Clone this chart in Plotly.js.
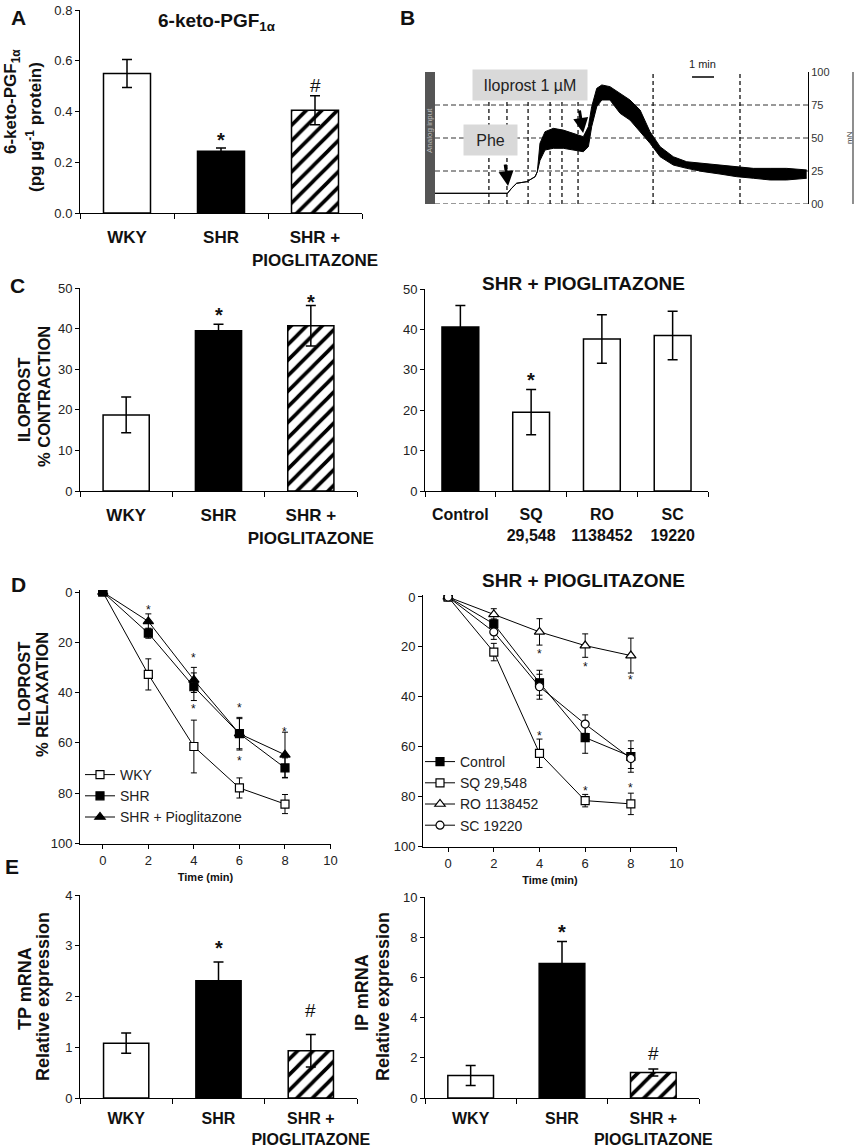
<!DOCTYPE html>
<html><head><meta charset="utf-8">
<script src="https://cdn.plot.ly/plotly-3.0.1.min.js"></script>
<style>html,body{margin:0;padding:0;background:#fff}#chart{width:858px;height:1147px}</style>
</head><body><div id="chart"></div>
<script>
// ---------- DATA ----------
// Panel A
const groups3 = ['WKY', 'SHR', 'SHR +<br>PIOGLITAZONE'];
const ketoMean = [0.55, 0.243, 0.405];
const ketoErr = [0.055, 0.013, 0.057];
// Panel B (isometric tension trace, min vs mN)
const traceTime  = [0, 3.29, 3.48, 3.71, 4.17, 4.55, 4.65, 4.77, 5.0, 5.38, 5.83, 6.29, 6.74, 6.97, 7.12, 7.35, 7.58, 7.95, 8.41, 8.86, 9.32, 9.77, 10.23, 10.83, 11.44, 12.2, 12.95, 13.71, 14.47, 15.23, 15.98, 16.89];
const traceUpper = [8.1, 8.1, 11.9, 15.7, 16.9, 20.7, 24.5, 46, 54.8, 57.3, 56, 53.5, 51, 58.6, 73.7, 87.6, 90.2, 88.9, 83.8, 78.8, 71.2, 54.8, 43.4, 35.8, 32, 30.8, 29.5, 28.3, 27, 27, 27, 25.8];
const traceLower = [8.1, 8.1, 11.9, 15.7, 16.9, 20.7, 24.5, 33, 40.9, 42.2, 42.2, 40.9, 39.6, 43.4, 58.6, 73.7, 78.8, 78.8, 68.7, 63.6, 54.8, 46, 35.8, 29.5, 27, 24.5, 22.7, 20.7, 19.5, 18.2, 18.2, 19.5];
const eventTimes = [2.45, 3.27, 4.23, 5.23, 5.77, 6.5, 9.91, 13.86];
const traceTickVals = [0, 25, 50, 75, 100];
const traceTickText = ['00', '25', '50', '75', '100'];
const phePoint = [3.32, 13.6];
const iloPoint = [6.73, 53.8];
// Panel C
const contractMean = [18.75, 39.5, 40.7];
const contractErr = [4.4, 1.6, 5.0];
const antagonists = ['Control', 'SQ<br>29,548', 'RO<br>1138452', 'SC<br>19220'];
const antagMean = [40.6, 19.5, 37.6, 38.5];
const antagErr = [5.3, 5.6, 6.0, 6.0];
// Panel D
const timeMin = [0, 2, 4, 6, 8];
const relaxWKY = [0, 32.8, 61.5, 78, 84.4];
const relaxWKYErr = [0, 6.2, 10.5, 4, 3.8];
const relaxSHR = [0, 16.4, 37.7, 56.4, 70];
const relaxSHRErr = [0, 2, 5.5, 6.5, 4];
const relaxSHRP = [0, 11.7, 35, 56.4, 64.8];
const relaxSHRPErr = [0, 3, 5, 6, 9];
const relaxCtrl = [0, 10.8, 34.4, 56.4, 64];
const relaxCtrlErr = [0, 2, 5, 6.3, 6.3];
const relaxSQ = [0, 22.1, 62.7, 81.7, 83];
const relaxSQErr = [0, 3.5, 5.7, 2.5, 4.3];
const relaxRO = [0, 7, 14, 19.5, 23.5];
const relaxROErr = [0, 2.3, 5.3, 4.7, 7];
const relaxSC = [0, 14, 36, 51, 64.8];
const relaxSCErr = [0, 3, 5, 3.7, 4];
const starsDLx = [2, 4, 4, 6, 6, 8];
const starsDLy = [5.8, 25, 45.5, 44.8, 66, 54.4];
const starsDRx = [4, 6, 8, 4, 6, 8];
const starsDRy = [21.6, 26.8, 32.1, 54.5, 76.5, 75.6];
// Panel E
const tpMean = [1.08, 2.31, 0.93];
const tpErr = [0.2, 0.37, 0.32];
const ipMean = [1.12, 6.69, 1.27];
const ipErr = [0.5, 1.1, 0.17];

// ---------- LAYOUT HELPERS ----------
const W = 858, H = 1147;
const FONT = "Arial, 'Liberation Sans', Helvetica, sans-serif";
const dx = (a, b) => [a / W, b / W];
const dy = (top, bottom) => [1 - bottom / H, 1 - top / H];
const PX = x => x / W, PY = y => 1 - y / H;

const barColors3 = ['white', 'black', 'black'];
const barShapes3 = ['', '', '/'];

function barTrace(cats, vals, errs, colors, shapes, xa, ya, width) {
  return {
    type: 'bar', x: cats, y: vals, xaxis: xa, yaxis: ya, width: width, showlegend: false,
    marker: { color: colors, line: { color: 'black', width: 1.5 },
      pattern: { shape: shapes, fgcolor: 'black', bgcolor: 'white', size: 11, solidity: 0.33 } },
    error_y: { type: 'data', array: errs, visible: true, color: 'black', thickness: 1.5, width: 5 }
  };
}
function barY(dom, anchor, range, dtick, fmt) {
  return { domain: dom, anchor: anchor, range: range, dtick: dtick, tick0: 0, tickformat: fmt,
    showline: true, linecolor: 'black', linewidth: 1, ticks: 'outside', ticklen: 4, tickcolor: 'black',
    showgrid: false, zeroline: false, tickfont: { size: 13, color: '#222' } };
}
function barX(dom, anchor, n, fs, standoff) {
  return { domain: dom, anchor: anchor, type: 'category', range: [-0.5, n - 0.5], tickangle: 0,
    showline: true, linecolor: 'black', linewidth: 1, ticks: 'outside', tickson: 'boundaries',
    ticklen: 5, tickcolor: 'black', showgrid: false, zeroline: false, ticklabelstandoff: standoff,
    tickfont: { size: fs, color: '#111', weight: 'bold' } };
}
function lineTrace(y, err, name, symbol, fill, xa, ya, legend, size) {
  return { type: 'scatter', mode: 'lines+markers', x: timeMin, y: y, name: name, xaxis: xa, yaxis: ya,
    legend: legend, line: { color: 'black', width: 1 },
    marker: { symbol: symbol, size: size || 8, color: fill, line: { color: 'black', width: 1.2 } },
    error_y: { type: 'data', array: err, visible: true, color: 'black', thickness: 1, width: 3 } };
}
function dX(dom, anchor, range) {
  return { domain: dom, anchor: anchor, range: range, tick0: 0, dtick: 2, showline: true, linecolor: 'black',
    linewidth: 1, ticks: 'outside', ticklen: 4, tickcolor: 'black', showgrid: false, zeroline: false,
    tickfont: { size: 13, color: '#222' },
    title: { text: 'Time (min)', font: { size: 11, weight: 'bold', color: '#111' }, standoff: 6 } };
}
function dY(dom, anchor) {
  return { domain: dom, anchor: anchor, range: [100.3, -0.8], tick0: 0, dtick: 20, showline: true,
    linecolor: 'black', linewidth: 1, ticks: 'outside', ticklen: 4, tickcolor: 'black', showgrid: false,
    zeroline: false, tickfont: { size: 13, color: '#222' } };
}

// ---------- TRACES ----------
const data = [];
// A
data.push(barTrace(groups3, ketoMean, ketoErr, barColors3, barShapes3, 'x', 'y', 0.5));
// B
data.push({ type: 'scatter', mode: 'lines', x: traceTime, y: traceLower, xaxis: 'x2', yaxis: 'y2',
  line: { color: 'black', width: 1 }, showlegend: false });
data.push({ type: 'scatter', mode: 'lines', x: traceTime, y: traceUpper, xaxis: 'x2', yaxis: 'y2',
  line: { color: 'black', width: 1 }, fill: 'tonexty', fillcolor: 'black', showlegend: false });
// C
data.push(barTrace(groups3, contractMean, contractErr, barColors3, barShapes3, 'x3', 'y3', 0.5));
data.push(barTrace(antagonists, antagMean, antagErr, ['black', 'white', 'white', 'white'], ['', '', '', ''], 'x4', 'y4', 0.52));
// D left
data.push(lineTrace(relaxWKY, relaxWKYErr, 'WKY', 'square', 'white', 'x5', 'y5', 'legend'));
data.push(lineTrace(relaxSHR, relaxSHRErr, 'SHR', 'square', 'black', 'x5', 'y5', 'legend'));
data.push(lineTrace(relaxSHRP, relaxSHRPErr, 'SHR + Pioglitazone', 'triangle-up', 'black', 'x5', 'y5', 'legend', 9));
// D right
data.push(lineTrace(relaxCtrl, relaxCtrlErr, 'Control', 'square', 'black', 'x6', 'y6', 'legend2'));
data.push(lineTrace(relaxSQ, relaxSQErr, 'SQ 29,548', 'square', 'white', 'x6', 'y6', 'legend2'));
data.push(lineTrace(relaxRO, relaxROErr, 'RO 1138452', 'triangle-up', 'white', 'x6', 'y6', 'legend2', 9));
data.push(lineTrace(relaxSC, relaxSCErr, 'SC 19220', 'circle', 'white', 'x6', 'y6', 'legend2'));
// E
data.push(barTrace(groups3, tpMean, tpErr, barColors3, barShapes3, 'x7', 'y7', 0.49));
data.push(barTrace(groups3, ipMean, ipErr, barColors3, barShapes3, 'x8', 'y8', 0.5));

// ---------- ANNOTATIONS ----------
const ann = [];
function txt(x, y, text, size, opts) {
  ann.push(Object.assign({ xref: 'paper', yref: 'paper', x: PX(x), y: PY(y), text: text, showarrow: false,
    xanchor: 'center', yanchor: 'middle', font: { family: FONT, size: size, color: '#111' } }, opts || {}));
}
function vtxt(x, y, text, size) { txt(x, y, text, size, { textangle: -90, font: { family: FONT, size: size, color: '#111', weight: 'bold' } }); }
function boldTxt(x, y, text, size) { txt(x, y, text, size, { font: { family: FONT, size: size, color: '#111', weight: 'bold' } }); }
// panel letters
boldTxt(18, 17, 'A', 21); boldTxt(407, 17, 'B', 21); boldTxt(17, 285, 'C', 21);
boldTxt(18, 584, 'D', 21); boldTxt(12, 866, 'E', 21);
// titles
boldTxt(217, 22, '6-keto-PGF<sub>1α</sub>', 19);
boldTxt(583, 283, 'SHR + PIOGLITAZONE', 19);
boldTxt(583, 580, 'SHR + PIOGLITAZONE', 19);
// y titles
vtxt(12, 102, '6-keto-PGF<sub>1α</sub>', 17);
vtxt(34, 127, '(pg µg<sup>-1</sup> protein)', 17);
vtxt(24, 400, 'ILOPROST', 16.5); vtxt(44, 397, '% CONTRACTION', 16.5);
vtxt(24, 684, 'ILOPROST', 16.5); vtxt(42, 695, '% RELAXATION', 16.5);
vtxt(25, 989, 'TP mRNA', 18); vtxt(43, 997, 'Relative expression', 18);
vtxt(362, 993, 'IP mRNA', 18); vtxt(383, 997, 'Relative expression', 18);
// significance marks (data coords)
function mark(xa, ya, cat, val, t, size, shift, bold) {
  ann.push({ xref: xa, yref: ya, x: cat, y: val, text: t, showarrow: false, yshift: shift,
    xanchor: 'center', yanchor: 'middle',
    font: { family: FONT, size: size, color: '#111', weight: bold ? 'bold' : 'normal' } });
}
mark('x', 'y', groups3[1], 0.307, '*', 20, -5, true); mark('x', 'y', groups3[2], 0.504, '#', 19, 0);
mark('x3', 'y3', groups3[1], 44.6, '*', 20, -5, true); mark('x3', 'y3', groups3[2], 47.8, '*', 20, -5, true);
mark('x4', 'y4', antagonists[1], 28.7, '*', 20, -5, true);
mark('x7', 'y7', groups3[1], 3.05, '*', 20, -5, true); mark('x7', 'y7', groups3[2], 1.73, '#', 19, 0);
mark('x8', 'y8', groups3[1], 8.5, '*', 20, -5, true); mark('x8', 'y8', groups3[2], 2.19, '#', 19, 0);
starsDLx.forEach((x, i) => mark('x5', 'y5', x, starsDLy[i], '*', 12, -3));
starsDRx.forEach((x, i) => mark('x6', 'y6', x, starsDRy[i], '*', 12, -3));
// B labels
ann.push({ xref: 'paper', yref: 'paper', x: PX(530), y: PY(85), xanchor: 'center', yanchor: 'middle',
  text: 'Iloprost 1 µM', showarrow: false,
  bgcolor: '#d9d9d9', width: 112, height: 28, borderpad: 1, font: { family: FONT, size: 16, color: '#222' } });
ann.push({ xref: 'paper', yref: 'paper', x: PX(490.5), y: PY(140), xanchor: 'center', yanchor: 'middle',
  text: 'Phe', showarrow: false,
  bgcolor: '#d9d9d9', width: 51, height: 28, borderpad: 1, font: { family: FONT, size: 16, color: '#222' } });
ann.push({ xref: 'x2', yref: 'y2', x: phePoint[0], y: phePoint[1], ax: -4, ay: -30, text: ' ', showarrow: true,
  arrowhead: 2, arrowsize: 1, arrowwidth: 3, arrowcolor: 'black' });
ann.push({ xref: 'x2', yref: 'y2', x: iloPoint[0], y: iloPoint[1], ax: -5, ay: -31, text: ' ', showarrow: true,
  arrowhead: 2, arrowsize: 1, arrowwidth: 3, arrowcolor: 'black' });
txt(702, 64, '1 min', 11, { font: { family: FONT, size: 11, color: '#222' } });
txt(430, 131, 'Analog input', 8, { textangle: -90, font: { family: FONT, size: 8, color: '#bbb' } });
txt(849, 138, 'mN', 8, { textangle: -90, font: { family: FONT, size: 8, color: '#333' } });

// ---------- SHAPES ----------
const shapes = [];
[0, 25, 50, 75].forEach(v => shapes.push({ type: 'line', xref: 'x2', yref: 'y2', x0: 0, x1: 16.95, y0: v, y1: v,
  layer: 'below', line: { color: '#333', width: 1, dash: '5px,3px' } }));
eventTimes.forEach(t => shapes.push({ type: 'line', xref: 'x2', yref: 'y2', x0: t, x1: t, y0: 0, y1: 100,
  layer: 'below', line: { color: '#111', width: 1.3, dash: '4px,3px' } }));
shapes.push({ type: 'rect', xref: 'paper', yref: 'paper', x0: PX(425), x1: PX(435), y0: PY(204), y1: PY(72),
  fillcolor: '#555', line: { width: 0 } });
shapes.push({ type: 'line', xref: 'paper', yref: 'paper', x0: PX(853), x1: PX(853), y0: PY(204), y1: PY(72),
  line: { color: '#444', width: 1.2 } });
shapes.push({ type: 'line', xref: 'x2', yref: 'paper', x0: 11.68, x1: 12.68, y0: PY(77), y1: PY(77),
  line: { color: 'black', width: 1.5 } });

// ---------- LAYOUT ----------
const layout = {
  width: W, height: H, margin: { l: 0, r: 0, t: 0, b: 0 }, paper_bgcolor: 'white', plot_bgcolor: 'rgba(0,0,0,0)',
  font: { family: FONT, color: '#111' }, bargap: 0.5,
  xaxis: barX(dx(80, 362), 'y', 3, 17, 9), yaxis: barY(dy(10, 213), 'x', [0, 0.8], 0.2, '.1f'),
  xaxis2: { domain: dx(435, 808), anchor: 'y2', range: [0, 16.95], visible: false },
  yaxis2: { domain: dy(72, 204), anchor: 'x2', side: 'right', range: [0, 100], tickvals: traceTickVals,
    ticktext: traceTickText, showline: true, linecolor: 'black', linewidth: 1, ticks: '', showgrid: false,
    zeroline: false, tickfont: { size: 11, color: '#333' } },
  xaxis3: barX(dx(80, 357), 'y3', 3, 17, 9), yaxis3: barY(dy(288, 491), 'x3', [0, 50], 10, 'd'),
  xaxis4: barX(dx(425, 708), 'y4', 4, 16, 9), yaxis4: barY(dy(289, 491), 'x4', [0, 50], 10, 'd'),
  xaxis5: dX(dx(80, 331), 'y5', [-1, 10.02]), yaxis5: dY(dy(590, 844), 'x5'),
  xaxis6: dX(dx(423, 677), 'y6', [-1.1, 10.02]), yaxis6: dY(dy(595, 847), 'x6'),
  xaxis7: barX(dx(80, 357), 'y7', 3, 16, 6), yaxis7: barY(dy(895, 1098), 'x7', [0, 4], 1, 'd'),
  xaxis8: barX(dx(425, 699), 'y8', 3, 16, 6), yaxis8: barY(dy(897, 1098), 'x8', [0, 10], 2, 'd'),
  legend: { x: PX(80), y: PY(759), xanchor: 'left', yanchor: 'top', bgcolor: 'rgba(0,0,0,0)', traceorder: 'normal',
    font: { family: FONT, size: 14, color: '#222' }, tracegroupgap: 0, itemwidth: 30 },
  legend2: { x: PX(420), y: PY(746), xanchor: 'left', yanchor: 'top', bgcolor: 'rgba(0,0,0,0)', traceorder: 'normal',
    font: { family: FONT, size: 14, color: '#222' }, tracegroupgap: 0, itemwidth: 30 },
  annotations: ann, shapes: shapes
};
Plotly.newPlot('chart', data, layout, { displayModeBar: false, staticPlot: true });
</script>
</body></html>
